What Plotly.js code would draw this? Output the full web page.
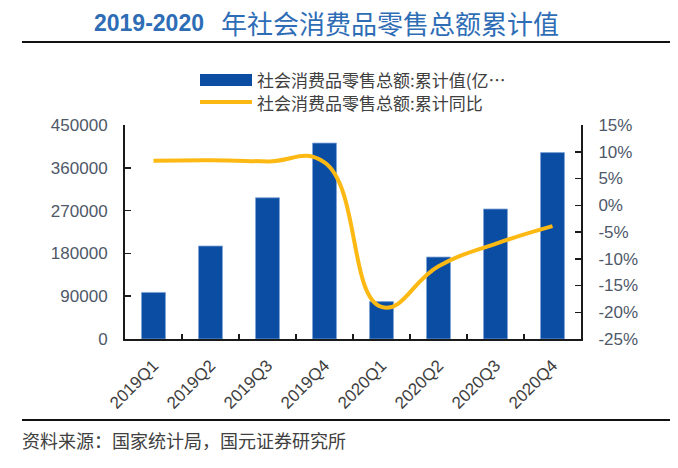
<!DOCTYPE html>
<html>
<head>
<meta charset="utf-8">
<script src="https://cdn.plot.ly/plotly-3.0.1.min.js"></script>
<style>html,body{margin:0;padding:0;background:#fff;}#chart{width:678px;height:468px;}</style>
</head>
<body>
<div id="chart"></div>
<script>
// ---- data ----
var categories = ["2019Q1","2019Q2","2019Q3","2019Q4","2020Q1","2020Q2","2020Q3","2020Q4"];
var cumValue = [98000, 195500, 297000, 412000, 78600, 172300, 273300, 392000];   // 亿元
var cumYoY = [8.3, 8.4, 8.2, 8.0, -19.0, -11.4, -7.2, -3.9];                     // %
var leftTicks = [0, 90000, 180000, 270000, 360000, 450000];
var rightTicks = [-25, -20, -15, -10, -5, 0, 5, 10, 15];
var rightTickText = ["-25%", "-20%", "-15%", "-10%", "-5%", "0%", "5%", "10%", "15%"];
var seriesNames = ["社会消费品零售总额:累计值(亿…", "社会消费品零售总额:累计同比"];
var titleNum = "2019-2020";
var titleCJK = "年社会消费品零售总额累计值";
var sourceText = "资料来源：国家统计局，国元证券研究所";

// ---- geometry helpers (pixel -> paper) ----
var W = 678, H = 468, L = 125, R = 581, T = 125, B = 339;
function px(x){ return (x - L) / (R - L); }
function py(y){ return (B - y) / (B - T); }

var BLUE = "#0B4DA2", YEL = "#FDB913", CJK = "Noto Sans CJK SC";
var tickCol = "#4E5868";

var traces = [
  {type: "bar", x: categories, y: cumValue, name: seriesNames[0], yaxis: "y",
   marker: {color: BLUE, line: {color: "#7FA3D8", width: 0.8}}, hoverinfo: "none"},
  {type: "scatter", mode: "lines", x: categories, y: cumYoY, name: seriesNames[1], yaxis: "y2",
   line: {color: YEL, width: 4, shape: "spline", smoothing: 1.3}, hoverinfo: "none"}
];

var layout = {
  width: W, height: H,
  margin: {l: L, r: W - R, t: T, b: H - B, pad: 0},
  paper_bgcolor: "#fff", plot_bgcolor: "#fff",
  showlegend: false,
  bargap: 0.58,
  xaxis: {
    type: "category", range: [-0.5, categories.length - 0.5],
    showline: true, linecolor: "#1a1a1a", linewidth: 2,
    ticks: "inside", tickson: "boundaries", ticklen: 5, tickwidth: 1.5, tickcolor: "#1a1a1a",
    tickangle: -45, ticklabelstandoff: 8,
    tickfont: {family: "Arial, Liberation Sans", size: 17, color: "#404040"},
    showgrid: false, zeroline: false, fixedrange: true
  },
  yaxis: {
    range: [0, 450000], tickvals: leftTicks, tickformat: "d",
    showline: true, linecolor: "#1a1a1a", linewidth: 2,
    ticks: "inside", ticklen: 6, tickwidth: 1.5, tickcolor: "#1a1a1a",
    ticklabelstandoff: 12,
    tickfont: {family: "Arial, Liberation Sans", size: 17, color: tickCol},
    showgrid: false, zeroline: false, fixedrange: true
  },
  yaxis2: {
    overlaying: "y", side: "right",
    range: [-25, 15], tickmode: "array", tickvals: rightTicks, ticktext: rightTickText,
    showline: true, linecolor: "#1a1a1a", linewidth: 2,
    ticks: "inside", ticklen: 6, tickwidth: 1.5, tickcolor: "#1a1a1a",
    ticklabelstandoff: 12,
    tickfont: {family: "Arial, Liberation Sans", size: 17, color: tickCol},
    showgrid: false, zeroline: false, fixedrange: true
  },
  shapes: [
    {type: "line", xref: "paper", yref: "paper", x0: px(22), x1: px(670), y0: py(42), y1: py(42),
     line: {color: "#111", width: 2}},
    {type: "line", xref: "paper", yref: "paper", x0: px(22), x1: px(670), y0: py(420), y1: py(420),
     line: {color: "#111", width: 2}},
    {type: "rect", xref: "paper", yref: "paper", x0: px(200), x1: px(252), y0: py(86), y1: py(74),
     fillcolor: BLUE, line: {width: 0}},
    {type: "line", xref: "paper", yref: "paper", x0: px(200), x1: px(252), y0: py(102), y1: py(102),
     line: {color: YEL, width: 4}}
  ],
  annotations: [
    {xref: "paper", yref: "paper", x: px(206), y: py(23), xanchor: "right", yanchor: "middle",
     text: "<b>" + titleNum + "</b>", showarrow: false,
     font: {family: "Arial, Liberation Sans", size: 23, color: "#2E6DB6"}},
    {xref: "paper", yref: "paper", x: px(219), y: py(22), xanchor: "left", yanchor: "middle",
     text: titleCJK, showarrow: false,
     font: {family: CJK, size: 26, color: "#2E6DB6"}},
    {xref: "paper", yref: "paper", x: px(255), y: py(80), xanchor: "left", yanchor: "middle",
     text: seriesNames[0], showarrow: false,
     font: {family: CJK, size: 17, color: "#404040"}},
    {xref: "paper", yref: "paper", x: px(255), y: py(102), xanchor: "left", yanchor: "middle",
     text: seriesNames[1], showarrow: false,
     font: {family: CJK, size: 17, color: "#404040"}},
    {xref: "paper", yref: "paper", x: px(20), y: py(440), xanchor: "left", yanchor: "middle",
     text: sourceText, showarrow: false,
     font: {family: CJK, size: 18, color: "#404040"}}
  ]
};

Plotly.newPlot("chart", traces, layout, {displayModeBar: false, staticPlot: true});
</script>
</body>
</html>
